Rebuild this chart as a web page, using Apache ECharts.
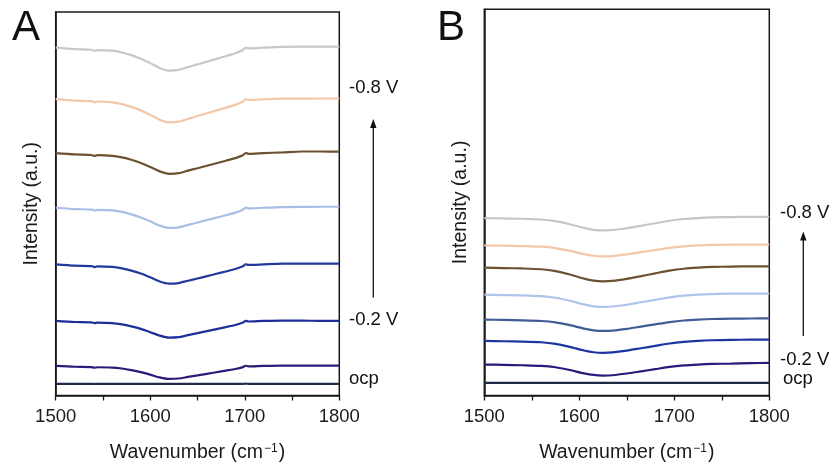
<!DOCTYPE html>
<html>
<head>
<meta charset="utf-8">
<script src="https://cdn.jsdelivr.net/npm/echarts@6/dist/echarts.min.js"></script>
<style>
html,body{margin:0;padding:0;background:#fff;}
#chart{width:837px;height:468px;}
</style>
</head>
<body>
<div id="chart"></div>
<script>
// ---------------- data ----------------
var xTicks = [1500, 1600, 1700, 1800];

// Panel A wavenumbers (cm-1)
var wavenumberA = [1500,1520,1538,1541,1544,1560,1570,1580,1590,1600,1610,1620,1630,1640,1650,1660,1670,1680,1690,1698,1701,1704,1720,1740,1760,1780,1800];
var a_m08 = [348.3,346.8,346.2,345.1,345.9,345.3,343.5,340.8,337.3,332.8,328.0,325.3,326.0,328.8,331.5,334.3,337.1,339.8,342.7,346.0,348.4,347.5,348.3,349.1,349.3,349.3,349.3];
var a_m07 = [296.7,295.3,294.7,293.6,294.4,293.6,291.8,289.0,285.5,281.0,276.2,273.4,274.2,277.0,279.8,282.6,285.4,288.2,291.0,294.3,296.7,296.0,296.6,297.2,297.3,297.4,297.4];
var a_m06 = [242.7,241.4,240.8,239.8,240.6,240.0,238.4,236.0,232.8,228.8,224.4,222.0,222.6,225.2,227.6,230.1,232.6,235.1,237.7,240.6,242.8,242.0,242.7,243.4,244.3,244.3,244.2];
var a_m05 = [188.0,186.7,186.2,185.2,185.9,185.4,183.8,181.4,178.3,174.4,170.1,167.8,168.4,170.8,173.2,175.7,178.1,180.5,183.1,186.0,188.1,187.3,188.0,188.7,188.9,189.0,189.0];
var a_m04 = [131.3,130.0,129.6,128.6,129.3,128.8,127.3,125.0,122.1,118.3,114.2,112.0,112.6,114.9,117.2,119.5,121.9,124.2,126.6,129.3,131.4,130.7,131.3,132.0,132.1,132.1,132.1];
var a_m02 = [74.7,73.6,73.2,72.4,73.0,72.5,71.2,69.2,66.7,63.4,59.9,57.9,58.4,60.5,62.4,64.5,66.5,68.5,70.6,73.0,74.8,74.1,74.7,75.0,75.0,74.7,74.7];
var a_m01 = [29.7,28.8,28.5,27.8,28.3,28.0,27.0,25.4,23.4,20.9,18.1,16.6,17.0,18.6,20.1,21.7,23.3,24.9,26.5,28.4,29.8,29.2,29.7,30.0,30.0,29.9,29.9];
var a_ocp = [11.7,11.7,11.6,11.5,11.7,11.7,11.7,11.7,11.7,11.7,11.7,11.7,11.7,11.7,11.7,11.7,11.7,11.7,11.7,11.7,11.8,11.7,11.7,11.7,11.7,11.7,11.7];

// Panel B wavenumbers (cm-1)
var wavenumberB = [1500,1520,1540,1560,1575,1590,1605,1615,1625,1635,1650,1665,1680,1695,1710,1725,1740,1760,1780,1800];
var b_m08 = [177.7,177.3,177.0,176.2,174.6,171.5,167.8,165.9,165.3,165.7,167.5,170.0,172.5,175.0,176.7,177.7,178.3,178.7,178.9,178.9];
var b_m07 = [150.3,150.0,149.6,149.0,147.6,144.8,141.5,139.9,139.3,139.6,141.3,143.5,145.7,147.9,149.4,150.3,150.9,151.0,151.0,151.0];
var b_m06 = [128.0,127.6,127.2,126.4,124.6,121.2,117.0,115.0,114.3,114.7,116.8,119.5,122.3,125.0,126.9,128.0,128.7,129.1,129.3,129.3];
var b_m05 = [101.0,100.6,100.3,99.5,97.9,94.9,91.2,89.3,88.7,89.1,90.9,93.4,95.8,98.3,100.0,101.0,101.6,102.0,102.0,102.0];
var b_m04 = [76.0,75.7,75.3,74.6,73.2,70.4,67.0,65.3,64.7,65.0,66.7,69.0,71.3,73.5,75.1,76.0,76.6,76.9,77.1,77.3];
var b_m02 = [54.7,54.3,54.0,53.3,51.7,48.7,45.1,43.3,42.7,43.1,44.9,47.3,49.7,52.1,53.7,54.7,55.3,55.7,55.9,56.0];
var b_m01 = [31.0,30.7,30.3,29.7,28.3,25.5,22.2,20.6,20.0,20.3,22.0,24.2,26.4,28.6,30.1,31.0,31.6,32.0,32.4,32.7];
var b_ocp = [12.7,12.7,12.7,12.7,12.7,12.7,12.7,12.7,12.7,12.7,12.7,12.7,12.7,12.7,12.7,12.7,12.7,12.7,12.7,12.7];

var colorsA = ['#c8c8c9','#f3c8aa','#6c5232','#a9bee6','#21399b','#1c2f99','#2d1b79','#1f2b49'];
var colorsB = ['#c6c6c6','#f3c7a7','#6b5231','#b0c4ea','#3f5c97','#1d35a0','#2b1a7b','#1e2a44'];
var seriesA = [a_m08,a_m07,a_m06,a_m05,a_m04,a_m02,a_m01,a_ocp];
var seriesB = [b_m08,b_m07,b_m06,b_m05,b_m04,b_m02,b_m01,b_ocp];

// ---------------- chart ----------------
var FONT = 'Liberation Sans, Arial, sans-serif';
var AX = '#1a1a1a';
var chart = echarts.init(document.getElementById('chart'), null, {renderer:'canvas'});

function xAxisCfg(gi){
  return {
    gridIndex: gi, type:'value', min:xTicks[0], max:xTicks[xTicks.length-1], interval:100,
    name:'Wavenumber (cm{sup|\u22121})', nameLocation:'middle', nameGap:47,
    nameTextStyle:{fontFamily:FONT, fontSize:19.5, color:AX,
      rich:{sup:{fontFamily:FONT, fontSize:12, color:AX, padding:[0,1,9,1]}}},
    axisLine:{show:true, lineStyle:{color:AX, width:1.5}},
    axisTick:{show:true, inside:false, length:5, lineStyle:{color:AX, width:1.3}},
    minorTick:{show:true, splitNumber:2, length:5, lineStyle:{color:AX, width:1.3}},
    axisLabel:{fontFamily:FONT, fontSize:18.5, color:AX, margin:12,
      formatter:function(v){return String(v);}},
    splitLine:{show:false}
  };
}
function yAxisCfg(gi, max){
  return {
    gridIndex: gi, type:'value', min:0, max:max,
    name:'Intensity (a.u.)', nameLocation:'middle', nameGap:14,
    nameTextStyle:{fontFamily:FONT, fontSize:19.5, color:AX},
    axisLine:{show:true, lineStyle:{color:AX, width:1.5}},
    axisTick:{show:false}, axisLabel:{show:false}, splitLine:{show:false}
  };
}

var series = [];
seriesA.forEach(function(arr, i){
  series.push({type:'line', xAxisIndex:0, yAxisIndex:0, showSymbol:false, smooth:0.25,
    lineStyle:{color:colorsA[i], width:2.2}, itemStyle:{color:colorsA[i]},
    data: wavenumberA.map(function(w,k){return [w, arr[k]];})});
});
seriesB.forEach(function(arr, i){
  series.push({type:'line', xAxisIndex:1, yAxisIndex:1, showSymbol:false, smooth:0.25,
    lineStyle:{color:colorsB[i], width:2.2}, itemStyle:{color:colorsB[i]},
    data: wavenumberB.map(function(w,k){return [w, arr[k]];})});
});

function label(text, x, y, size){
  return {type:'text', left:x, top:y - size*0.6, style:{text:text, font: size + 'px ' + FONT, fill:'#111'}};
}
function arrow(x, y0, y1){
  return [
    {type:'line', shape:{x1:x, y1:y0, x2:x, y2:y1+8}, style:{stroke:'#111', lineWidth:1.3}},
    {type:'polygon', shape:{points:[[x, y1],[x-3.2, y1+9],[x+3.2, y1+9]]}, style:{fill:'#111'}}
  ];
}

var graphics = [
  label('A', 12, 33, 42),
  label('B', 437, 33, 42),
  label('-0.8 V', 349, 90, 18.5),
  label('-0.2 V', 349, 322, 18.5),
  label('ocp', 349, 381, 18.5),
  label('-0.8 V', 780, 215, 18.5),
  label('-0.2 V', 780, 362, 18.5),
  label('ocp', 783, 381, 18.5)
].concat(arrow(373.3, 297.5, 119)).concat(arrow(803.3, 336, 231.5));

chart.setOption({
  animation:false,
  backgroundColor:'#ffffff',
  grid:[
    {left:55.7, top:12, width:283.6, height:384, show:true, borderColor:AX, borderWidth:1.5, backgroundColor:'transparent'},
    {left:484.3, top:9.3, width:285, height:386.7, show:true, borderColor:AX, borderWidth:1.5, backgroundColor:'transparent'}
  ],
  xAxis:[xAxisCfg(0), xAxisCfg(1)],
  yAxis:[yAxisCfg(0, 384), yAxisCfg(1, 386.7)],
  series: series,
  graphic: graphics
});
</script>
</body>
</html>
